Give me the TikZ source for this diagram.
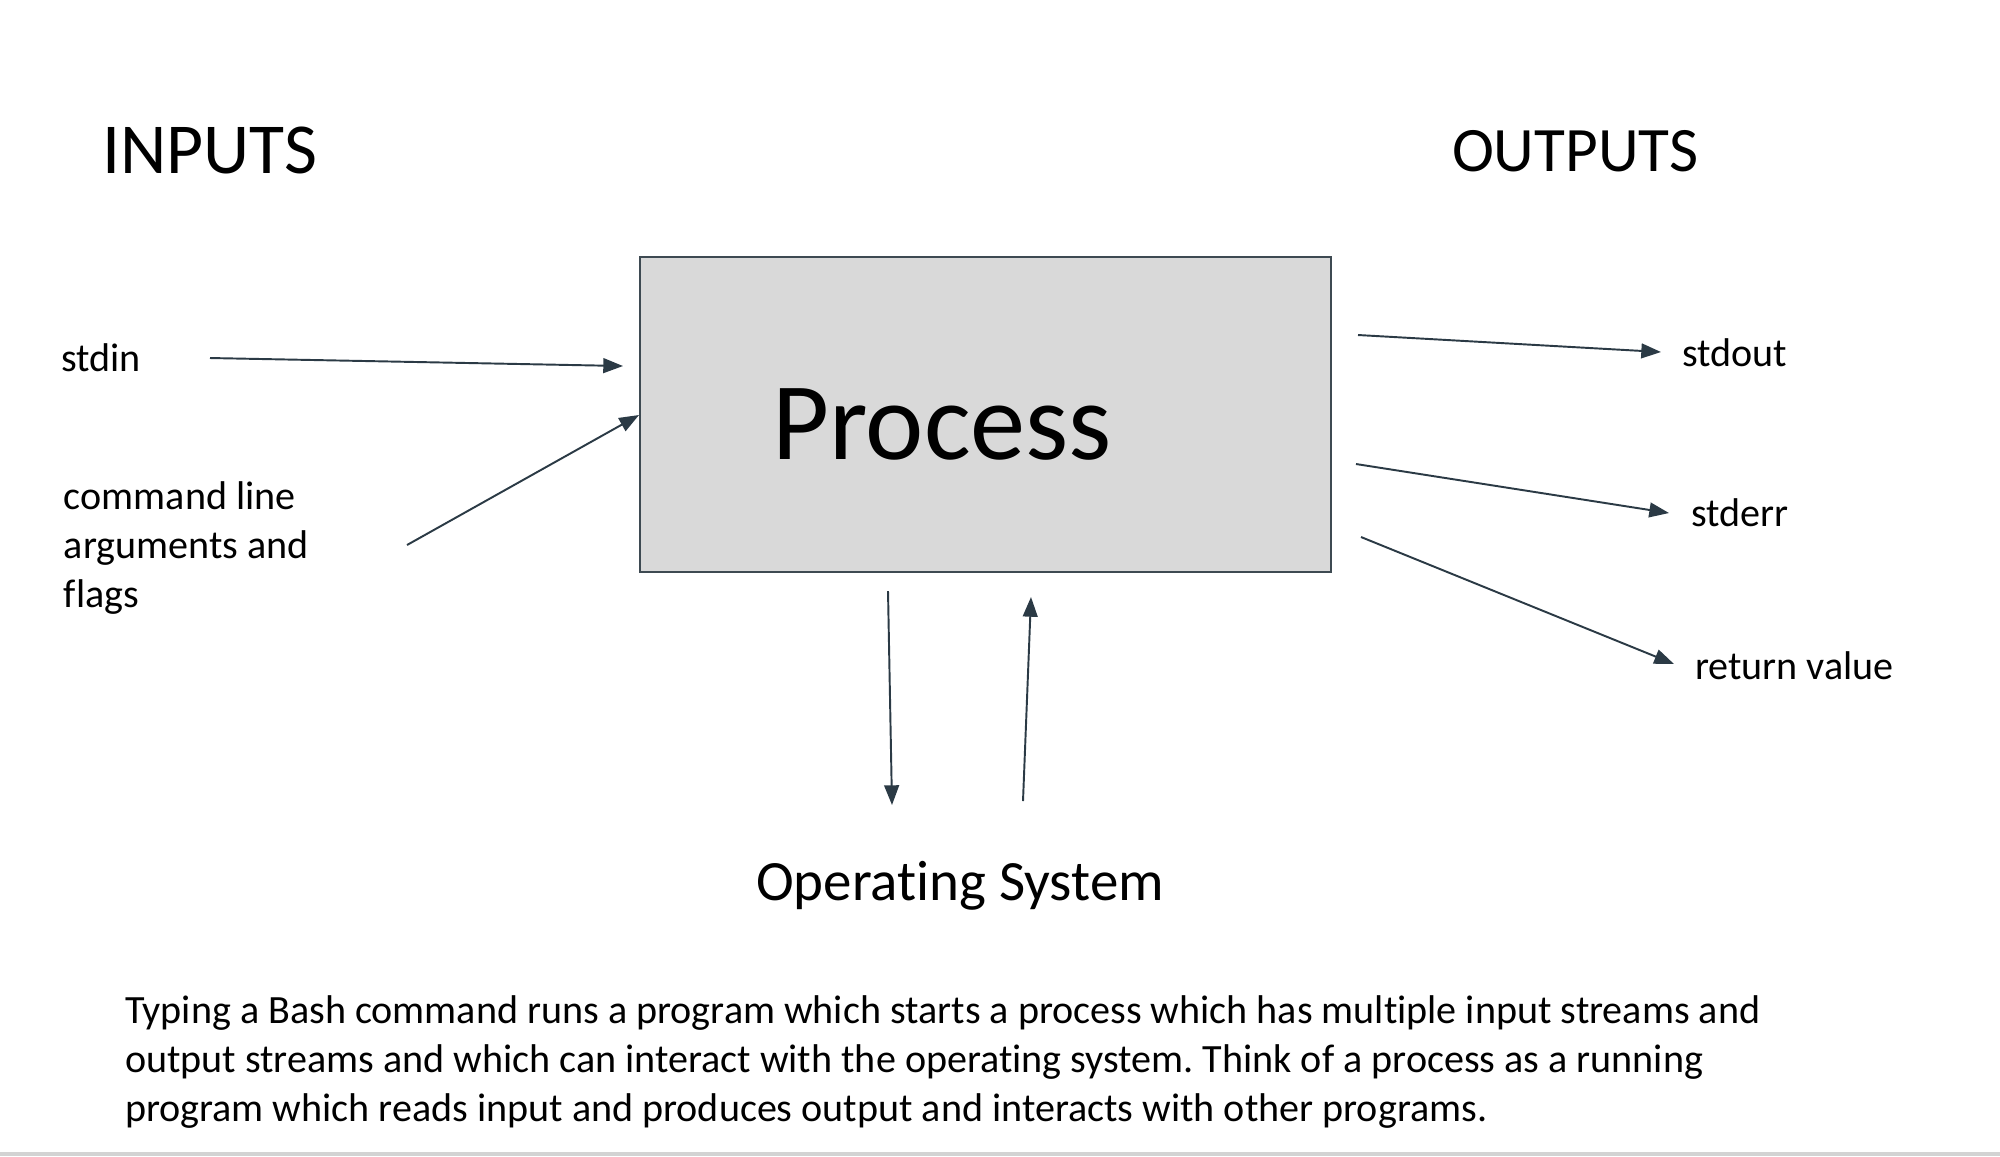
\documentclass[tikz,border=0pt]{standalone}
\usepackage{fontspec}
\setmainfont{Carlito}[Ligatures=NoCommon]
\frenchspacing
\usetikzlibrary{arrows.meta}
\definecolor{arrowcol}{HTML}{2B3A45}
\definecolor{boxfill}{HTML}{D9D9D9}
\definecolor{boxline}{HTML}{3E4A52}
\definecolor{rulegray}{HTML}{D3D3D3}
\tikzset{
  txt/.style={inner sep=0pt, outer sep=0pt, anchor=base west, text=black},
  small/.style={txt, font=\fontsize{11.4}{13.8}\selectfont},
  flow/.style={draw=arrowcol, line width=0.55pt, -{Triangle[length=5.6pt,width=4.2pt]}},
}
\begin{document}
\begin{tikzpicture}[x=0.01cm,y=-0.01cm]
\useasboundingbox (0,0) rectangle (2000,1156);
\fill[rulegray] (0,1152) rectangle (2000,1156);
% box
\node[draw=boxline, fill=boxfill, line width=0.5pt, inner sep=0pt, anchor=north west, minimum width=6.91cm, minimum height=3.15cm] (proc) at (639,256) {};
\node[txt, font=\fontsize{31.4}{38}\selectfont] (proctext) at (772,459) {Process};
% headings
\node[txt, font=\fontsize{20.4}{25}\selectfont] (inputs) at (102,173) {INPUTS};
\node[txt, font=\fontsize{18}{22}\selectfont] (outputs) at (1452,171) {OUTPUTS};
% input labels
\node[small] (stdin) at (61,371) {stdin};
\node[small, align=left] (cmd) at (64,607) {command line\\arguments and\\flags};
% output labels
\node[small] (stdout) at (1682,366) {stdout};
\node[small] (stderr) at (1691,526) {stderr};
\node[small] (retval) at (1695,679) {return value};
% OS
\node[txt, font=\fontsize{16.2}{19}\selectfont] (os) at (756,900) {Operating System};
% paragraph
\node[small, align=left] (para) at (125,1121) {Typing a Bash command runs a program which starts a process which has multiple input streams and\\output streams and which can interact with the operating system. Think of a process as a running\\program which reads input and produces output and interacts with other programs.};
% arrow end points
\coordinate (a1s) at (210,358); \coordinate (a1e) at (623,366);
\coordinate (a2s) at (407,545); \coordinate (a2e) at (639,415);
\coordinate (b1s) at (1358,335); \coordinate (b1e) at (1661,352);
\coordinate (b2s) at (1356,464); \coordinate (b2e) at (1669,513);
\coordinate (b3s) at (1361,537); \coordinate (b3e) at (1674,664);
\coordinate (c1s) at (888,591); \coordinate (c1e) at (892,805);
\coordinate (c2s) at (1023,801); \coordinate (c2e) at (1031,597);
\draw[flow] (a1s) -- (a1e);
\draw[flow] (a2s) -- (a2e);
\draw[flow] (b1s) -- (b1e);
\draw[flow] (b2s) -- (b2e);
\draw[flow] (b3s) -- (b3e);
\draw[flow] (c1s) -- (c1e);
\draw[flow] (c2s) -- (c2e);
\end{tikzpicture}
\end{document}
